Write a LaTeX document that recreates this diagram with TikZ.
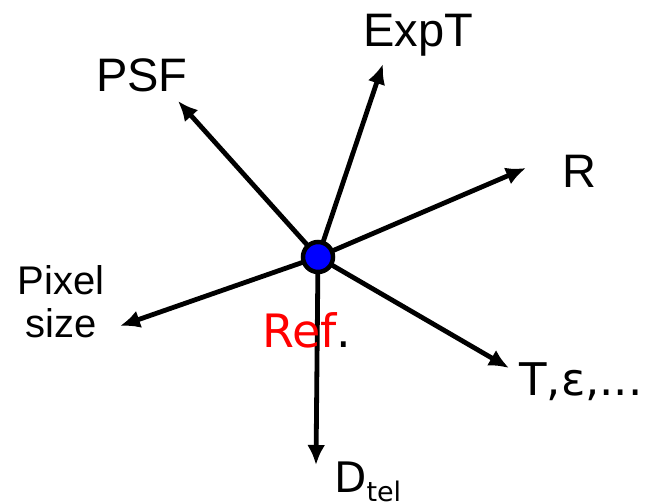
\documentclass[tikz,border=0pt]{standalone}
\usepackage{fontspec}
\setmainfont{Liberation Sans}
\newfontfamily\dvs{DejaVu Sans}
\usetikzlibrary{arrows.meta}
\tikzset{
  axisarrow/.style={line width=4.8pt,-{Latex[length=20pt,width=18pt]}},
  lbl/.style={inner sep=0pt,anchor=base west},
  refdot/.style={circle,draw=black,fill=blue,line width=4.5pt,minimum size=30pt,inner sep=0pt}
}
\begin{document}
\begin{tikzpicture}[x=1pt,y=-1pt]
\useasboundingbox (0,0) rectangle (649,503);
\coordinate (c) at (318,257);
\coordinate (tpsf) at (178,101);
\coordinate (texp) at (383,64);
\coordinate (tr) at (526,168);
\coordinate (tpix) at (120,326);
\coordinate (tt) at (509,368);
\coordinate (td) at (316,465);
\draw[axisarrow] (c) -- (tpsf);
\draw[axisarrow] (c) -- (texp);
\draw[axisarrow] (c) -- (tr);
\draw[axisarrow] (c) -- (tpix);
\draw[axisarrow] (c) -- (tt);
\draw[axisarrow] (c) -- (td);
\node[refdot] (ref) at (c) {};
\node[lbl,font=\fontsize{47}{50}\selectfont] (psf) at (96,92) {PSF};
\node[lbl,font=\fontsize{47}{50}\selectfont] (exp) at (363,47) {ExpT};
\node[lbl,font=\fontsize{47}{50}\selectfont] (r) at (562,187) {R};
\node[inner sep=0pt,align=center,anchor=base,font=\fontsize{40}{43}\selectfont] (pix) at (61,337) {Pixel\\size};
\node[lbl,font=\dvs\fontsize{45}{50}\selectfont] (teps) at (519,395) {T,ε,...};
\node[lbl,font=\dvs\fontsize{42}{46}\selectfont] (dtel) at (334,492) {D\raisebox{-9pt}{\fontsize{27}{30}\selectfont tel}};
\node[lbl,font=\dvs\fontsize{46}{50}\selectfont] (reflbl) at (262,347) {\textcolor{red}{Ref}.};
\end{tikzpicture}
\end{document}
